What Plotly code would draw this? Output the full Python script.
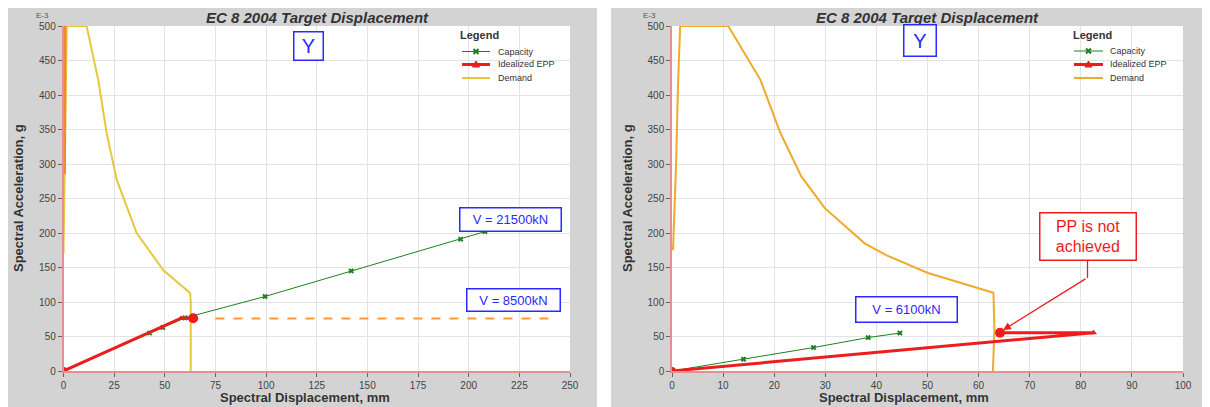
import plotly.graph_objects as go

# ---------------- data ----------------
# Left chart (V = 21500kN)
L_cap_x = [0, 42.5, 49, 60, 99.5, 142, 196, 208]
L_cap_y = [0, 55, 63, 77, 108, 145, 191, 202]
L_epp_x = [0, 58, 64]
L_epp_y = [0, 76.5, 76.5]
L_dem_x = [0, 0.6, 1.6, 11.4, 17.2, 21.3, 26.3, 36.1, 49.3, 62.5, 62.8, 62.8]
L_dem_y = [170, 285, 500, 500, 421, 345, 277, 200, 146, 113, 100, 0]
L_dem_edge_x = [0.6, 0.8]
L_dem_edge_y = [285, 500]
L_target_x = [75, 242]
L_target_y = [76, 76]

# Right chart (V = 6100kN)
R_cap_x = [0, 14.0, 27.7, 38.4, 44.6]
R_cap_y = [0, 17, 34, 48.5, 55]
R_epp_x = [0, 82.5, 64.2]
R_epp_y = [0, 55.5, 55.5]
R_dem_x = [0.2, 0.8, 1.2, 1.6, 11.0, 17.3, 21.1, 25.3, 29.9, 37.7, 41.9, 50.1, 62.9, 63.1, 62.8]
R_dem_y = [175, 300, 420, 500, 500, 422, 347, 282, 236, 185, 168, 142, 113.5, 60, 0]

L_x_ticks = list(range(0, 251, 25))
R_x_ticks = list(range(0, 101, 10))
y_ticks = list(range(0, 501, 50))

SERIES = ["Capacity", "Idealized EPP", "Demand"]
TITLE = "EC 8 2004 Target Displacement"
XTITLE = "Spectral Displacement, mm"
YTITLE = "Spectral Acceleration, g"

# ---------------- layout helpers ----------------
# the page body has an 8px margin, so the figure starts at (8, 8) of the window
OFF = 8
W, H = 1210 - OFF, 407 - OFF
def px(x):
    return (x - OFF) / W
def py(y):
    return 1 - (y - OFF) / H

FONT = "Liberation Sans, Arial, sans-serif"
GREEN = "#1f7f1f"
RED = "#ee1c1c"
GRID = "#e3e3e3"
AXLINE = "#e29090"
BLUE = "#2a2aff"
L_DEM_C = "#e9c640"
R_DEM_C = "#efaa2a"

fig = go.Figure()

def add_chart(sfx, cap_x, cap_y, epp_x, epp_y, dem_x, dem_y, dem_color):
    xa, ya = "x" + sfx, "y" + sfx
    fig.add_trace(go.Scatter(x=dem_x, y=dem_y, mode="lines", name=SERIES[2], showlegend=False,
                             line=dict(color=dem_color, width=2), xaxis=xa, yaxis=ya))
    fig.add_trace(go.Scatter(x=cap_x, y=cap_y, mode="lines+markers", name=SERIES[0],
                             showlegend=False, line=dict(color=GREEN, width=1),
                             marker=dict(symbol="x", size=5, color=GREEN),
                             xaxis=xa, yaxis=ya))
    fig.add_trace(go.Scatter(x=epp_x, y=epp_y, mode="lines+markers", name=SERIES[1],
                             showlegend=False, line=dict(color=RED, width=3),
                             marker=dict(symbol="triangle-up", size=6, color=RED),
                             xaxis=xa, yaxis=ya))
    fig.add_trace(go.Scatter(x=[epp_x[0]], y=[epp_y[0]], mode="markers", showlegend=False,
                             marker=dict(symbol="circle", size=8, color=RED),
                             xaxis=xa, yaxis=ya))
    fig.add_trace(go.Scatter(x=[epp_x[-1]], y=[epp_y[-1]], mode="markers", showlegend=False,
                             marker=dict(symbol="circle", size=10, color=RED),
                             xaxis=xa, yaxis=ya))

add_chart("", L_cap_x, L_cap_y, L_epp_x, L_epp_y, L_dem_x, L_dem_y, L_DEM_C)
fig.add_trace(go.Scatter(x=L_dem_edge_x, y=L_dem_edge_y, mode="lines", showlegend=False,
                         line=dict(color="#f08a30", width=2.5), xaxis="x", yaxis="y"))
fig.add_trace(go.Scatter(x=L_target_x, y=L_target_y, mode="lines", showlegend=False,
                         line=dict(color="#ff9a33", width=2, dash="dash"), xaxis="x", yaxis="y"))
add_chart("2", R_cap_x, R_cap_y, R_epp_x, R_epp_y, R_dem_x, R_dem_y, R_DEM_C)

# plot area domains (window pixels)
Lx0, Lx1 = 63.5, 570
Rx0, Rx1 = 672, 1183
Ytop, Ybot = 26, 371

def xaxis(dom, rng, ticks, anchor):
    return dict(domain=[px(dom[0]), px(dom[1])], range=rng, tickvals=ticks, anchor=anchor,
                showgrid=True, gridcolor=GRID, gridwidth=1, zeroline=False,
                showline=True, linecolor=AXLINE, linewidth=1.5, automargin=False,
                ticks="outside", ticklen=4, tickcolor="#666",
                tickfont=dict(family=FONT, size=10, color="#444"), fixedrange=True)

def yaxis(anchor):
    return dict(domain=[py(Ybot), py(Ytop)], range=[0, 500], tickvals=y_ticks, anchor=anchor,
                showgrid=True, gridcolor=GRID, gridwidth=1, zeroline=False,
                showline=True, linecolor=AXLINE, linewidth=1.5, automargin=False,
                ticks="outside", ticklen=4, tickcolor="#666",
                tickfont=dict(family=FONT, size=10, color="#444"), fixedrange=True)

shapes = [
    dict(type="rect", xref="paper", yref="paper", x0=px(6), x1=px(597), y0=py(407), y1=py(6),
         fillcolor="#d3d3d3", line=dict(width=0), layer="below"),
    dict(type="rect", xref="paper", yref="paper", x0=px(611), x1=px(1210), y0=py(407), y1=py(6),
         fillcolor="#d3d3d3", line=dict(width=0), layer="below"),
    dict(type="rect", xref="paper", yref="paper", x0=px(Lx0), x1=px(Lx1), y0=py(Ybot), y1=py(Ytop),
         fillcolor="white", line=dict(width=0), layer="below"),
    dict(type="rect", xref="paper", yref="paper", x0=px(Rx0), x1=px(Rx1), y0=py(Ybot), y1=py(Ytop),
         fillcolor="white", line=dict(width=0), layer="below"),
    # callout stem from PP box
    dict(type="line", xref="paper", yref="paper", x0=px(1087.5), x1=px(1087.5),
         y0=py(261), y1=py(278), line=dict(color=RED, width=1.3)),
]

def box(text, cx, cy, w, h, color, size, border):
    return dict(text=text, xref="paper", yref="paper", x=px(cx), y=py(cy),
                xanchor="center", yanchor="middle", showarrow=False,
                width=w, height=h, bgcolor="white", bordercolor=border, borderwidth=1.5,
                borderpad=1, font=dict(family=FONT, size=size, color=color))

def text(t, cx, cy, size, color="#333", angle=0, xanchor="center", yanchor="middle"):
    return dict(text=t, xref="paper", yref="paper", x=px(cx), y=py(cy), xanchor=xanchor,
                yanchor=yanchor, showarrow=False, textangle=angle, borderpad=0,
                font=dict(family=FONT, size=size, color=color))

annotations = [
    text("<b><i>" + TITLE + "</i></b>", 317, 8.5, 15, yanchor="top"),
    text("<b><i>" + TITLE + "</i></b>", 927, 8.5, 15, yanchor="top"),
    text("E-3", 42, 15, 8, "#555"),
    text("E-3", 649, 15, 8, "#555"),
    text("<b>" + XTITLE + "</b>", 305, 397, 13),
    text("<b>" + XTITLE + "</b>", 904, 397, 13),
    text("<b>" + YTITLE + "</b>", 18, 198, 13, angle=-90),
    text("<b>" + YTITLE + "</b>", 627, 198, 13, angle=-90),
    box("Y", 308, 46.5, 26, 25, BLUE, 20, BLUE),
    box("Y", 919.5, 40, 29, 28, BLUE, 20, BLUE),
    box("V = 21500kN", 510.5, 219.5, 98, 20, BLUE, 13, BLUE),
    box("V = 8500kN", 513, 300, 90, 19, BLUE, 13, BLUE),
    box("V = 6100kN", 906, 309.5, 98, 22, BLUE, 13, BLUE),
    box("PP is not<br>achieved", 1087.5, 236.5, 93, 44, RED, 16, RED),
    dict(x=64.8, y=59.4, xref="x2", yref="y2", ax=81.2, ay=134.8, axref="x2", ayref="y2",
         showarrow=True, arrowhead=2, arrowsize=1.2, arrowwidth=1.3, arrowcolor=RED,
         standoff=0, text=""),
]

# ---------------- hand-drawn legends (compact, like the reference) ----------------
def legend(x_title, x_line0, x_line1, x_text, rows_y, dem_color):
    annotations.append(text("<b>Legend</b>", x_title, 35, 11, "#333", xanchor="left"))
    colors = [GREEN, RED, dem_color]
    widths = [1, 3, 2]
    cx = (x_line0 + x_line1) / 2
    for name, yy, c, w in zip(SERIES, rows_y, colors, widths):
        shapes.append(dict(type="line", xref="paper", yref="paper", x0=px(x_line0), x1=px(x_line1),
                           y0=py(yy), y1=py(yy), line=dict(color=c, width=w)))
        annotations.append(text(name, x_text, yy, 9, "#333", xanchor="left"))
    # capacity "x" marker
    s = 2.5
    y0 = rows_y[0]
    shapes.append(dict(type="path", xref="paper", yref="paper",
                       path=f"M {px(cx-s)} {py(y0-s)} L {px(cx+s)} {py(y0+s)} "
                            f"M {px(cx-s)} {py(y0+s)} L {px(cx+s)} {py(y0-s)}",
                       line=dict(color=GREEN, width=2)))
    # EPP triangle marker
    y1 = rows_y[1]
    shapes.append(dict(type="path", xref="paper", yref="paper",
                       path=f"M {px(cx-3.5)} {py(y1+2.5)} L {px(cx+3.5)} {py(y1+2.5)} "
                            f"L {px(cx)} {py(y1-3.5)} Z",
                       fillcolor=RED, line=dict(color=RED, width=1)))

legend(459, 462, 490, 497, [51.5, 64.5, 78], L_DEM_C)
legend(1072, 1074, 1103, 1109, [51, 64.5, 78], R_DEM_C)

fig.update_layout(
    width=W, height=H, autosize=False,
    margin=dict(l=0, r=0, t=0, b=0, pad=0, autoexpand=False),
    paper_bgcolor="white", plot_bgcolor="rgba(0,0,0,0)",
    xaxis=xaxis((Lx0, Lx1), [0, 250], L_x_ticks, "y"),
    yaxis=yaxis("x"),
    xaxis2=xaxis((Rx0, Rx1), [0, 100], R_x_ticks, "y2"),
    yaxis2=yaxis("x2"),
    showlegend=False,
    shapes=shapes, annotations=annotations,
    font=dict(family=FONT),
)

fig.write_html("out.html")
